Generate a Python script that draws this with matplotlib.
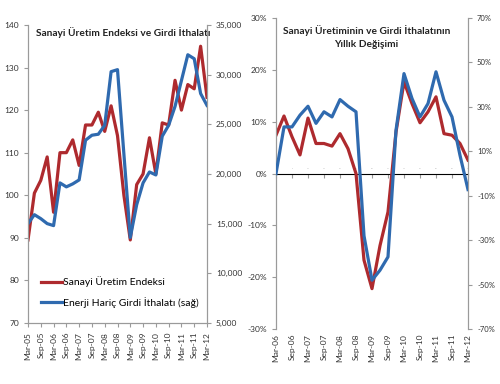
import matplotlib
matplotlib.use("Agg")
import matplotlib.pyplot as plt
from matplotlib.ticker import FuncFormatter

plt.rcParams['font.family'] = ['Lato', 'DejaVu Sans']

# --- left chart: quarterly levels, Mar-05 .. Mar-12
left_ticks = ["Mar-05", "Sep-05", "Mar-06", "Sep-06", "Mar-07", "Sep-07", "Mar-08",
              "Sep-08", "Mar-09", "Sep-09", "Mar-10", "Sep-10", "Mar-11", "Sep-11", "Mar-12"]
sanayi = [89.5, 100.5, 103.5, 109, 96, 110, 110, 113, 107, 116.5, 116.5, 119.5, 115, 121,
          114, 100, 89.5, 102.5, 105, 113.5, 105, 117, 116.5, 127, 120, 126, 125, 135, 123]
girdi = [15000, 15900, 15500, 15000, 14800, 19100, 18700, 19000, 19400, 23400, 23900, 24000,
         24900, 30300, 30500, 22000, 13600, 16900, 19100, 20200, 19900, 23800, 24900, 26800,
         29400, 32000, 31600, 28100, 26900]

# --- right chart: annual change (%), Mar-06 .. Mar-12
right_ticks = ["Mar-06", "Sep-06", "Mar-07", "Sep-07", "Mar-08", "Sep-08", "Mar-09",
               "Sep-09", "Mar-10", "Sep-10", "Mar-11", "Sep-11", "Mar-12"]
sanayi_chg = [7.4, 11.1, 7.1, 3.6, 10.7, 5.8, 5.8, 5.3, 7.7, 4.8, 0.0, -16.7, -22.2,
              -13.9, -7.4, 8.0, 17.7, 13.5, 9.8, 11.9, 14.8, 7.7, 7.4, 5.8, 2.6]
girdi_chg = [0, 21, 21, 26.3, 30.3, 22.6, 27.8, 25.5, 33.3, 30.3, 27.8, -28, -48,
             -43.5, -37.5, 19.5, 45, 33.8, 25.5, 31.5, 45.8, 33, 25.5, 8.2, -7.2]

RED = "#AE2A2E"
BLUE = "#2F6AAF"
GREY = "#9a9a9a"
TXT = "#333333"

fig = plt.figure(figsize=(5, 3.84), dpi=100)

def style(ax):
    for s in ax.spines.values():
        s.set_color(GREY)
    ax.tick_params(colors=GREY, labelcolor=TXT, labelsize=6, length=3)

# ---------- left chart
ax1 = fig.add_axes([0.056, 0.159, 0.358, 0.776])
xq = list(range(0, 3 * len(sanayi), 3))
ax1.plot(xq, sanayi, color=RED, lw=2.3, label="Sanayi Üretim Endeksi")
ax1.set_xlim(0, 84)
ax1.set_ylim(70, 140)
ax1.set_yticks(range(70, 141, 10))
ax1.set_xticks(range(0, 85, 6))
ax1.set_xticklabels(left_ticks, rotation=90)
ax1.spines['top'].set_visible(False)
style(ax1)

ax1b = ax1.twinx()
ax1b.plot(xq, girdi, color=BLUE, lw=2.3, label="Enerji Hariç Girdi İthalatı (sağ)")
ax1b.set_ylim(5000, 35000)
ax1b.set_yticks(range(5000, 35001, 5000))
ax1b.yaxis.set_major_formatter(FuncFormatter(lambda v, p: f"{int(v):,}"))
ax1b.spines['top'].set_visible(False)
style(ax1b)

ax1.set_title("Sanayi Üretim Endeksi ve Girdi İthalatı", fontsize=7.3, fontweight='bold',
              color="#222222", y=0.935, x=0.53)
h1, l1 = ax1.get_legend_handles_labels()
h2, l2 = ax1b.get_legend_handles_labels()
ax1.legend(h1 + h2, l1 + l2, loc='lower left', bbox_to_anchor=(0.02, 0.02), frameon=False,
           fontsize=7.5, handlelength=2.0, handletextpad=0.1, labelspacing=0.9)

# ---------- right chart
ax2 = fig.add_axes([0.552, 0.143, 0.384, 0.81])
xr = list(range(0, 3 * len(sanayi_chg), 3))
ax2.plot(xr, sanayi_chg, color=RED, lw=2.3, zorder=3)
ax2.set_xlim(0, 72)
ax2.set_ylim(-30, 30)
ax2.set_yticks(range(-30, 31, 10))
ax2.yaxis.set_major_formatter(FuncFormatter(lambda v, p: f"{int(v)}%"))
ax2.set_xticks(range(0, 73, 6))
ax2.set_xticklabels(right_ticks, rotation=90)
ax2.spines['top'].set_visible(False)
ax2.spines['bottom'].set_visible(False)
style(ax2)
ax2.tick_params(axis='x', length=0)

zero = ax2.secondary_xaxis(0.5)
zero.set_xticks(range(0, 73, 6))
zero.tick_params(direction='in', length=3, colors=GREY, labelbottom=False, labelsize=0)
zero.spines['bottom'].set_color(GREY)

ax2b = ax2.twinx()
ax2b.plot(xr, girdi_chg, color=BLUE, lw=2.3, zorder=3)
ax2b.set_ylim(-70, 70)
ax2b.set_yticks(range(-70, 71, 20))
ax2b.yaxis.set_major_formatter(FuncFormatter(lambda v, p: f"{int(v)}%"))
ax2b.spines['top'].set_visible(False)
ax2b.spines['bottom'].set_visible(False)
style(ax2b)
ax2b.tick_params(labelsize=5.5)

ax2.set_title("Sanayi Üretiminin ve Girdi İthalatının\nYıllık Değişimi", fontsize=7.3,
              fontweight='bold', color="#222222", y=0.88, x=0.47, linespacing=1.6)

fig.savefig("out.png", dpi=100)
